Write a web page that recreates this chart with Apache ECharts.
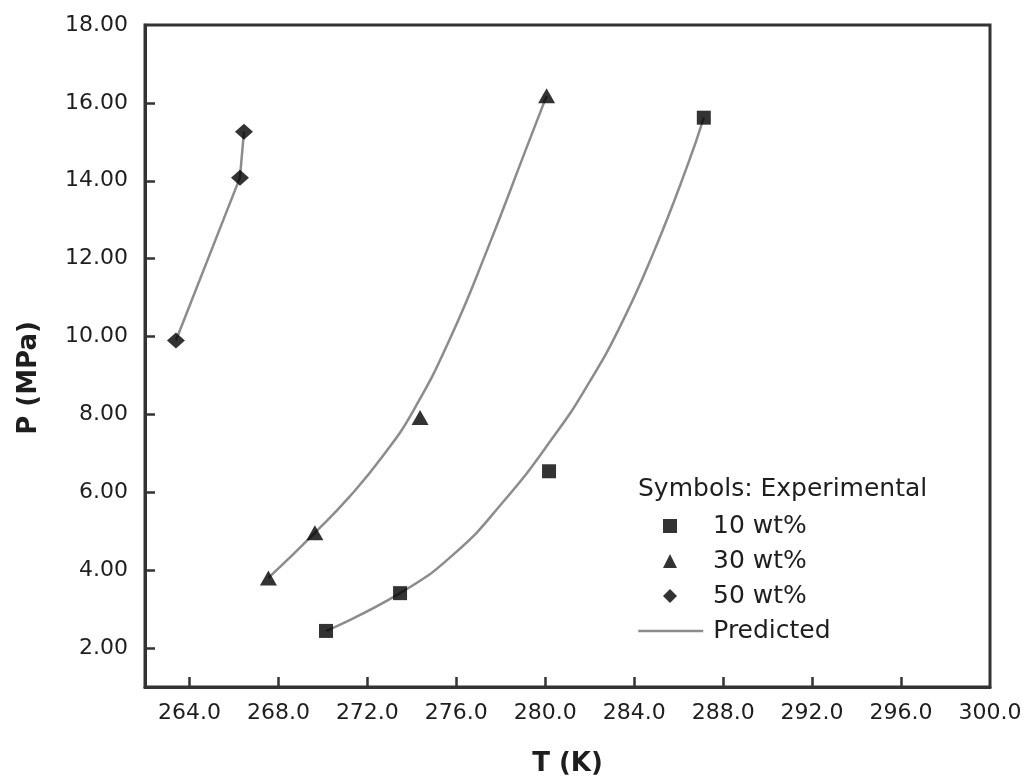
<!DOCTYPE html>
<html>
<head>
<meta charset="utf-8">
<script src="https://cdn.jsdelivr.net/npm/echarts@6/dist/echarts.min.js"></script>
<style>
  html, body { margin: 0; padding: 0; background: #ffffff; }
  #chart { width: 1032px; height: 782px; }
</style>
</head>
<body>
<div id="chart"></div>
<script>
// Axis tick labels
const tempTicks = [264, 268, 272, 276, 280, 284, 288, 292, 296, 300];
const pressureTicks = [2, 4, 6, 8, 10, 12, 14, 16, 18];

// Experimental hydrate equilibrium points [T (K), P (MPa)]
const exp10 = [[270.14, 2.44], [273.47, 3.41], [280.17, 6.54], [287.13, 15.62]];
const exp30 = [[267.55, 3.80], [269.64, 4.96], [274.37, 7.92], [280.06, 16.18]];
const exp50 = [[263.39, 9.90], [266.27, 14.08], [266.45, 15.26]];

// Predicted equilibrium curves [T (K), P (MPa)]
const pred10 = [[270.14, 2.44], [273.47, 3.41], [275.9, 4.42], [278.1, 5.75], [280.4, 7.45],
                [281.9, 8.75], [283.4, 10.30], [284.9, 12.20], [286.4, 14.40], [287.13, 15.62]];
const pred30 = [[267.55, 3.80], [269.64, 4.96], [271.22, 5.90], [272.72, 6.95], [274.07, 8.10],
                [275.72, 9.95], [277.37, 12.20], [279.16, 14.85], [280.06, 16.18]];
const pred50 = [[263.39, 9.90], [266.27, 14.08], [266.45, 15.26]];

const FONT = 'DejaVu Sans';
const AXIS_COLOR = '#333333';
const TEXT_COLOR = '#1e1e1e';
const CURVE_COLOR = '#8c8c8c';

const chart = echarts.init(document.getElementById('chart'), null, { renderer: 'canvas' });

function curve(data, smooth) {
  return {
    name: 'Predicted',
    type: 'line',
    data: data,
    smooth: smooth,
    symbol: 'none',
    showSymbol: false,
    z: 1,
    lineStyle: { color: CURVE_COLOR, width: 2.5 },
    itemStyle: { color: CURVE_COLOR }
  };
}

function points(name, data, symbol, size) {
  return {
    name: name,
    type: 'scatter',
    data: data,
    symbol: symbol,
    symbolSize: size,
    z: 3,
    itemStyle: { color: '#000000' }
  };
}

const legendText = {
  fontFamily: FONT,
  fontSize: 25,
  color: TEXT_COLOR,
  lineHeight: 26
};

chart.setOption({
  animation: false,
  backgroundColor: '#ffffff',
  grid: {
    left: 145, right: 42, top: 25, bottom: 95,
    show: true,
    borderColor: AXIS_COLOR,
    borderWidth: 3
  },
  xAxis: {
    type: 'value',
    min: 262,
    max: 300,
    axisLine: { show: true, lineStyle: { color: AXIS_COLOR, width: 3 } },
    axisTick: {
      show: true, inside: true, length: 10,
      customValues: tempTicks.slice(0, -1),
      lineStyle: { color: AXIS_COLOR, width: 2.5 }
    },
    axisLabel: {
      customValues: tempTicks,
      formatter: v => Number(v).toFixed(1),
      margin: 15,
      fontFamily: FONT, fontSize: 22, color: TEXT_COLOR
    },
    splitLine: { show: false },
    name: 'T (K)',
    nameLocation: 'middle',
    nameGap: 64,
    nameTextStyle: { fontFamily: FONT, fontSize: 26, fontWeight: 'bold', color: TEXT_COLOR }
  },
  yAxis: {
    type: 'value',
    min: 1,
    max: 18,
    axisLine: { show: true, lineStyle: { color: AXIS_COLOR, width: 3 } },
    axisTick: {
      show: true, inside: true, length: 10,
      customValues: pressureTicks.slice(0, -1),
      lineStyle: { color: AXIS_COLOR, width: 2.5 }
    },
    axisLabel: {
      customValues: pressureTicks,
      formatter: v => Number(v).toFixed(2),
      margin: 17,
      fontFamily: FONT, fontSize: 22, color: TEXT_COLOR
    },
    splitLine: { show: false }
  },
  legend: [
    {
      data: ['10 wt%', '30 wt%', '50 wt%'],
      orient: 'vertical',
      left: 658,
      top: 508,
      itemWidth: 14,
      itemHeight: 14,
      itemGap: 9,
      selectedMode: false,
      textStyle: Object.assign({ padding: [0, 0, 0, 31] }, legendText)
    },
    {
      data: ['Predicted'],
      orient: 'vertical',
      left: 632,
      top: 613,
      itemWidth: 65,
      itemHeight: 14,
      selectedMode: false,
      itemStyle: { opacity: 0 },
      lineStyle: { width: 2.5, color: CURVE_COLOR },
      textStyle: Object.assign({ padding: [0, 0, 0, 5] }, legendText)
    }
  ],
  graphic: [
    {
      type: 'text',
      left: 638,
      top: 477,
      style: {
        text: 'Symbols: Experimental',
        font: '25px "' + FONT + '"',
        fill: TEXT_COLOR
      }
    },
    {
      type: 'text',
      x: 29,
      y: 378,
      rotation: Math.PI / 2,
      style: {
        text: 'P (MPa)',
        font: 'bold 26px "' + FONT + '"',
        fill: TEXT_COLOR,
        align: 'center',
        verticalAlign: 'middle'
      }
    }
  ],
  series: [
    curve(pred10, 0.5),
    curve(pred30, 0.5),
    curve(pred50, false),
    points('10 wt%', exp10, 'rect', 14),
    points('30 wt%', exp30, 'triangle', [17, 15]),
    points('50 wt%', exp50, 'diamond', [18, 16])
  ]
});
</script>
</body>
</html>
